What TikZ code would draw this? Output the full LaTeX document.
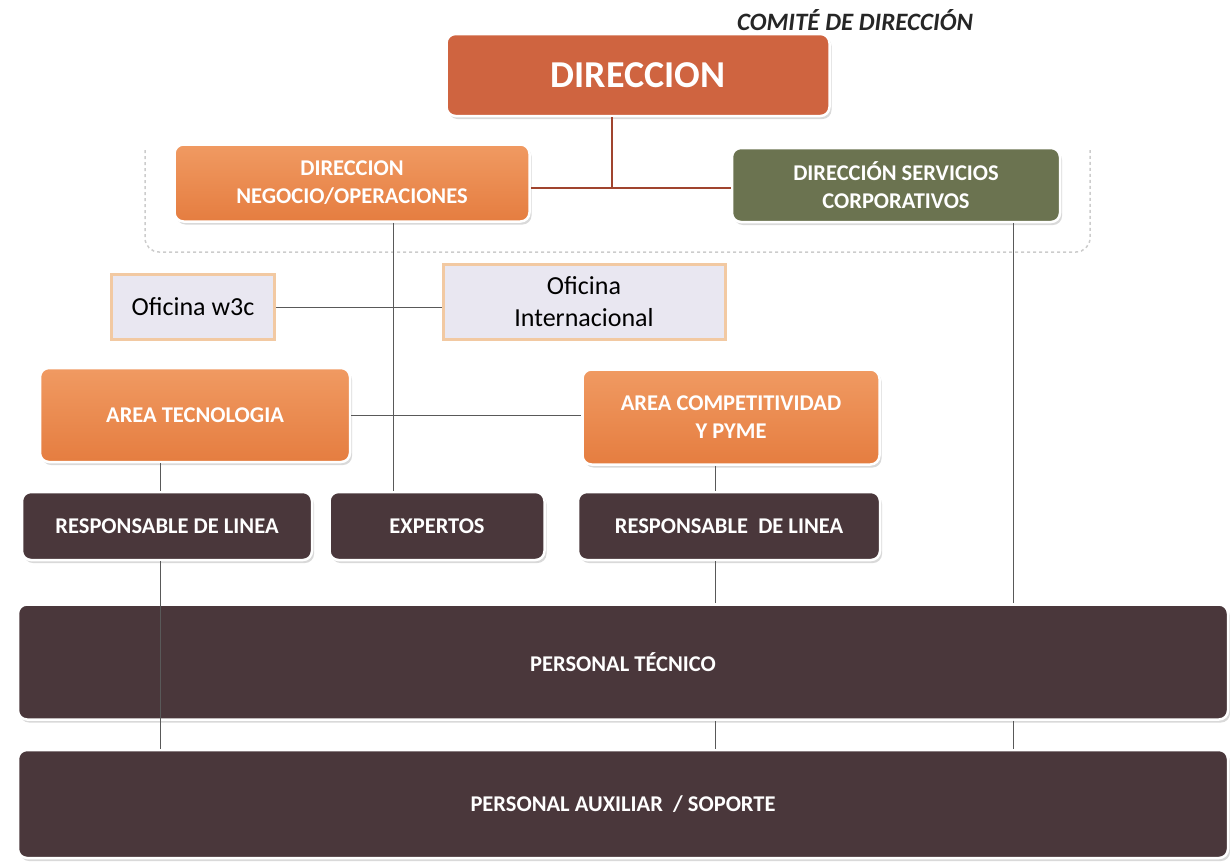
\documentclass[tikz,border=0pt]{standalone}
\usepackage{fontspec}
\setmainfont{Carlito}
\usetikzlibrary{shadows}

\definecolor{dirred}{HTML}{CF6440}
\definecolor{orangetop}{HTML}{F09A62}
\definecolor{orangebot}{HTML}{E57D40}
\definecolor{olive}{HTML}{6B7350}
\definecolor{darkbrown}{HTML}{4A373B}
\definecolor{lavender}{HTML}{E9E7F1}
\definecolor{tanline}{HTML}{F2C9A2}
\definecolor{dirline}{HTML}{A0442E}

\tikzset{
  box/.style={rounded corners=9pt, draw=white, line width=2.5pt,
    drop shadow={shadow xshift=2pt, shadow yshift=-3pt, opacity=0.3},
    text=white, align=center, inner sep=0pt,
    font=\bfseries\fontsize{22.5}{28}\selectfont},
  orangebox/.style={box, top color=orangetop, bottom color=orangebot},
  darkbox/.style={box, fill=darkbrown},
  officebox/.style={draw=tanline, line width=3pt, fill=lavender, align=center,
    inner sep=0pt, font=\fontsize{26}{32}\selectfont},
  link/.style={draw=black!65, line width=1pt},
  redlink/.style={draw=dirline, line width=1.5pt},
}

\begin{document}
\begin{tikzpicture}[x=1pt, y=-1pt]
\useasboundingbox (0,0) rectangle (1230,865);

% comite
\draw[dashed, black!20, line width=1.5pt, rounded corners=14pt]
  (145,150) -- (145,252) -- (1090,252) -- (1090,150);
\node[font=\bfseries\itshape\fontsize{25}{28}\selectfont, text=black!85] (comite) at (855,20) {COMITÉ DE DIRECCIÓN};

\node[box, fill=dirred, minimum width=383pt, minimum height=82pt,
  font=\bfseries\fontsize{38}{42}\selectfont] (dir) at (638,75) {DIRECCION};
\node[orangebox, minimum width=355pt, minimum height=77pt] (neg) at (352,183) {DIRECCION\\NEGOCIO/OPERACIONES};
\node[box, fill=olive, minimum width=328pt, minimum height=74pt] (serv) at (896,185) {DIRECCIÓN SERVICIOS\\CORPORATIVOS};

\node[officebox, minimum width=163pt, minimum height=65pt] (w3c) at (193,307) {Oficina w3c};
\node[officebox, minimum width=282pt, minimum height=75pt] (inter) at (584,302) {Oficina\\Internacional};

\node[orangebox, minimum width=310pt, minimum height=94pt] (tecno) at (195,415) {AREA TECNOLOGIA};
\node[orangebox, minimum width=297pt, minimum height=95pt] (compet) at (731,417) {AREA COMPETITIVIDAD\\Y PYME};

\node[darkbox, minimum width=290pt, minimum height=68pt] (resp1) at (167,526) {RESPONSABLE DE LINEA};
\node[darkbox, minimum width=215pt, minimum height=68pt] (exp) at (437,526) {EXPERTOS};
\node[darkbox, minimum width=302pt, minimum height=68pt] (resp2) at (729,526) {RESPONSABLE \ DE LINEA};

\node[darkbox, minimum width=1210pt, minimum height=115pt] (tec) at (623,662) {PERSONAL TÉCNICO};
\node[darkbox, minimum width=1210pt, minimum height=108pt] (aux) at (623,804) {PERSONAL AUXILIAR \ / SOPORTE};

% lines
\coordinate (hub) at (612,188);
\coordinate (negx) at (393,0);
\coordinate (servx) at (1013,0);
\coordinate (leftx) at (160,0);
\coordinate (rightx) at (715,0);

\draw[redlink] (dir.south -| hub) -- (hub);
\draw[redlink] (neg.east |- hub) -- (serv.west |- hub);

\draw[link] (neg.south -| negx) -- (exp.north -| negx);
\draw[link] (serv.south -| servx) -- (tec.north -| servx);
\draw[link] (tec.south -| servx) -- (aux.north -| servx);

\draw[link] (w3c.east) -- (inter.west |- w3c.east);
\draw[link] (tecno.east) -- (compet.west |- tecno.east);

\draw[link] (tecno.south -| leftx) -- (resp1.north -| leftx);
\draw[link] (resp1.south -| leftx) -- (aux.north -| leftx);

\draw[link] (compet.south -| rightx) -- (resp2.north -| rightx);
\draw[link] (resp2.south -| rightx) -- (tec.north -| rightx);
\draw[link] (tec.south -| rightx) -- (aux.north -| rightx);

\end{tikzpicture}
\end{document}
